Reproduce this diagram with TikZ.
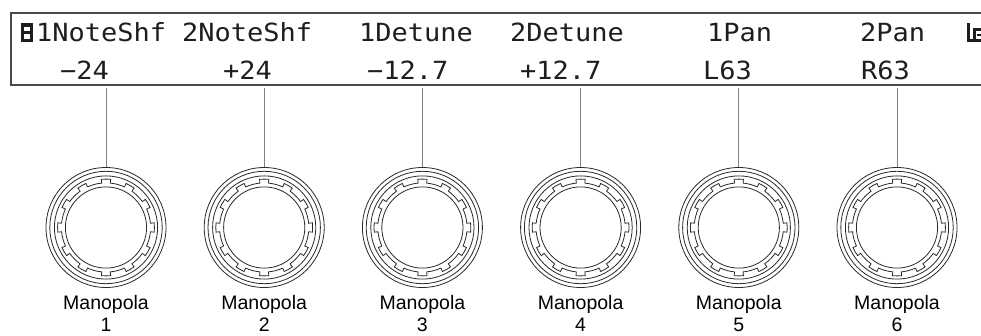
\documentclass[tikz,border=0pt]{standalone}
\usepackage{fontspec}
\setmainfont{Liberation Sans}
\newfontfamily\lcdfont[FakeStretch=1.08]{DejaVu Sans Mono}
\definecolor{lcdink}{HTML}{1E1E1E}
\definecolor{framegray}{HTML}{4A4A4A}
\definecolor{leadgray}{HTML}{808080}
\definecolor{knobink}{HTML}{2A2A2A}
\tikzset{
  lcdtext/.style={inner sep=0pt, anchor=base west, text=lcdink, font=\lcdfont\fontsize{25}{25}\selectfont},
  lcdframe/.style={draw=framegray, line width=1.4pt},
  lead/.style={draw=leadgray, line width=0.8pt},
  knobline/.style={draw=knobink, line width=0.8pt},
  knobbody/.style={circle, minimum size=120pt, inner sep=0pt, knobline},
  caption/.style={inner sep=0pt, anchor=base, text=black, font=\fontsize{19.5}{19.5}\selectfont},
  knob/.pic={
    \draw[knobline] (0,0) circle[radius=56.2];
    \draw[knobline] (0,0) circle[radius=51.6];
    \draw[knobline] (0,0) circle[radius=40.6];
    \foreach \a in {90,120,...,420}{
      \draw[knobline, line join=miter]
        (\a-24.5:44.6) arc[start angle=\a-24.5, end angle=\a-5.5, radius=44.6]
        -- (\a-5.5:48.4) arc[start angle=\a-5.5, end angle=\a+5.5, radius=48.4]
        -- (\a+5.5:44.6);
    }
  }
}
\begin{document}
\begin{tikzpicture}[x=1pt,y=-1pt]
\useasboundingbox[fill=white] (0,0) rectangle (981,336);

% display frame (open to the right)
\draw[lcdframe] (981,13) -- (11,13) -- (11,85) -- (981,85);

% page indicator marks
\fill[lcdink] (21,23.5) rectangle (33,41.8);
\fill[white] (24.2,26.6) rectangle (29.8,38.7);
\fill[lcdink] (24.2,31.2) rectangle (29.8,34.1);
\draw[lcdink, line width=2.4pt] (968.5,23) -- (968.5,40.6) -- (981,40.6);
\draw[lcdink, line width=2.2pt] (981,29.5) -- (974.5,29.5) -- (974.5,40.6);
\draw[lcdink, line width=1.6pt] (977,35) -- (981,35);

% parameter names
\node[lcdtext] (h1) at (36,41.7) {1NoteShf};
\node[lcdtext] (h2) at (182,41.7) {2NoteShf};
\node[lcdtext] (h3) at (359,41.7) {1Detune};
\node[lcdtext] (h4) at (510,41.7) {2Detune};
\node[lcdtext] (h5) at (707,41.7) {1Pan};
\node[lcdtext] (h6) at (860,41.7) {2Pan};

% parameter values
\node[lcdtext] (v1) at (60,79.5) {−24};
\node[lcdtext] (v2) at (223,79.5) {+24};
\node[lcdtext] (v3) at (367,79.5) {−12.7};
\node[lcdtext] (v4) at (520,79.5) {+12.7};
\node[lcdtext] (v5) at (703,79.5) {L63};
\node[lcdtext] (v6) at (861,79.5) {R63};

% knobs, leads and captions
\foreach \i/\x in {1/106,2/264.2,3/422.4,4/580.6,5/738.8,6/897}{
  \node[knobbody, draw] (k\i) at (\x,227.5) {};
  \pic at (k\i.center) {knob};
  \coordinate (t\i) at (\x,88);
  \draw[lead] (t\i) -- (k\i.north);
  \node[caption] (m\i) at (\x,309.5) {Manopola};
  \node[caption] (n\i) at (\x,331) {\i};
}
\end{tikzpicture}
\end{document}
